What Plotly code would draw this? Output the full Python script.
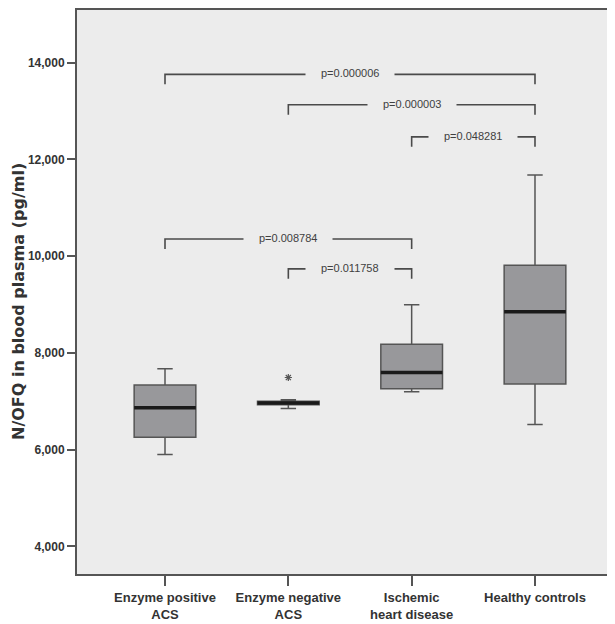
import plotly.graph_objects as go

# ---- data ----
categories = ["Enzyme positive<br>ACS", "Enzyme negative<br>ACS", "Ischemic<br>heart disease", "Healthy controls"]
positions = [0, 1, 2, 3]
lower_whisker = [5903, 6850, 7198, 6519]
q1_values = [6257, 6930, 7259, 7356]
median_values = [6868, 6965, 7595, 8854]
q3_values = [7335, 7000, 8179, 9815]
upper_whisker = [7671, 7030, 8998, 11677]

outlier_x = [1]
outlier_y = [7492]

bracket_from = [0, 1, 2, 0, 1]
bracket_to = [3, 3, 3, 2, 2]
bracket_y = [13759, 13130, 12467, 10356, 9739]
bracket_labels = ["p=0.000006", "p=0.000003", "p=0.048281", "p=0.008784", "p=0.011758"]
bracket_drop = 206

y_ticks = [4000, 6000, 8000, 10000, 12000, 14000]
y_tick_text = ["4,000", "6,000", "8,000", "10,000", "12,000", "14,000"]

BG = "#ececec"
BOX_FILL = "#98989b"
EDGE = "#555555"
TEXT = "#333333"
box_width = 0.5

# page body adds an 8px offset; size the figure so it fits the 615x624 window
FIG_W, FIG_H = 607, 616
M_L, M_R, M_T, M_B = 69, 0, 0, 50
plot_h = FIG_H - M_T - M_B
plot_w = FIG_W - M_L - M_R

fig = go.Figure()
fig.add_trace(go.Box(
    x=positions, q1=q1_values, median=median_values, q3=q3_values,
    lowerfence=lower_whisker, upperfence=upper_whisker,
    width=box_width, whiskerwidth=0.25,
    fillcolor=BOX_FILL, line=dict(color=EDGE, width=1.5),
    boxpoints=False, showlegend=False, hoverinfo="skip",
))
fig.add_trace(go.Scatter(
    x=outlier_x, y=outlier_y, mode="markers",
    marker=dict(symbol="asterisk-open", size=6, color="#555555", line=dict(width=1.2, color="#555555")),
    showlegend=False, hoverinfo="skip",
))

shapes = []
for p, m in zip(positions, median_values):
    shapes.append(dict(type="line", xref="x", yref="y", x0=p - box_width / 2, x1=p + box_width / 2,
                       y0=m, y1=m, line=dict(color="#1a1a1a", width=3.5), layer="above"))

annotations = []
for a, b, yv, lab in zip(bracket_from, bracket_to, bracket_y, bracket_labels):
    shapes.append(dict(type="path", xref="x", yref="y",
                       path=f"M {a},{yv - bracket_drop} L {a},{yv} L {b},{yv} L {b},{yv - bracket_drop}",
                       line=dict(color="#4a4a4a", width=1.6), layer="above"))
    annotations.append(dict(x=(a + b) / 2, y=yv, xref="x", yref="y", text=lab, showarrow=False,
                            font=dict(family="Liberation Sans, Arial, sans-serif", size=11, color="#404040"),
                            bgcolor=BG, borderpad=15, yshift=1))

annotations.append(dict(x=(11 - M_L) / plot_w, y=1 - (293 - M_T) / plot_h, xref="paper", yref="paper",
                        text="<b>N/OFQ in blood plasma (pg/ml)</b>", textangle=-90, showarrow=False,
                        xanchor="center", yanchor="middle",
                        font=dict(family="DejaVu Sans, sans-serif", size=16, color=TEXT)))

fig.update_layout(
    width=FIG_W, height=FIG_H,
    margin=dict(l=M_L, r=M_R, t=M_T, b=M_B, pad=0),
    paper_bgcolor="white", plot_bgcolor=BG,
    font=dict(family="Liberation Sans, Arial, sans-serif", color=TEXT),
    shapes=shapes, annotations=annotations,
    showlegend=False,
)
fig.update_xaxes(
    range=[-0.7135, 3.6487], tickvals=positions, ticktext=["<b>" + c + "</b>" for c in categories],
    showgrid=False, zeroline=False, showline=True, linecolor=EDGE, linewidth=2, mirror=True,
    ticks="outside", ticklen=10, tickwidth=1.5, tickcolor=EDGE,
    tickfont=dict(family="Liberation Sans, Arial, sans-serif", size=13, color=TEXT),
)
fig.update_yaxes(
    range=[3430, 15090], tickvals=y_ticks, ticktext=["<b>" + t + "</b>" for t in y_tick_text],
    showgrid=False, zeroline=False, showline=True, linecolor=EDGE, linewidth=2,
    ticks="outside", ticklen=8, tickwidth=1.5, tickcolor=EDGE,
    tickfont=dict(family="Liberation Sans, Arial, sans-serif", size=12, color=TEXT),
)
fig.write_html("out.html")
